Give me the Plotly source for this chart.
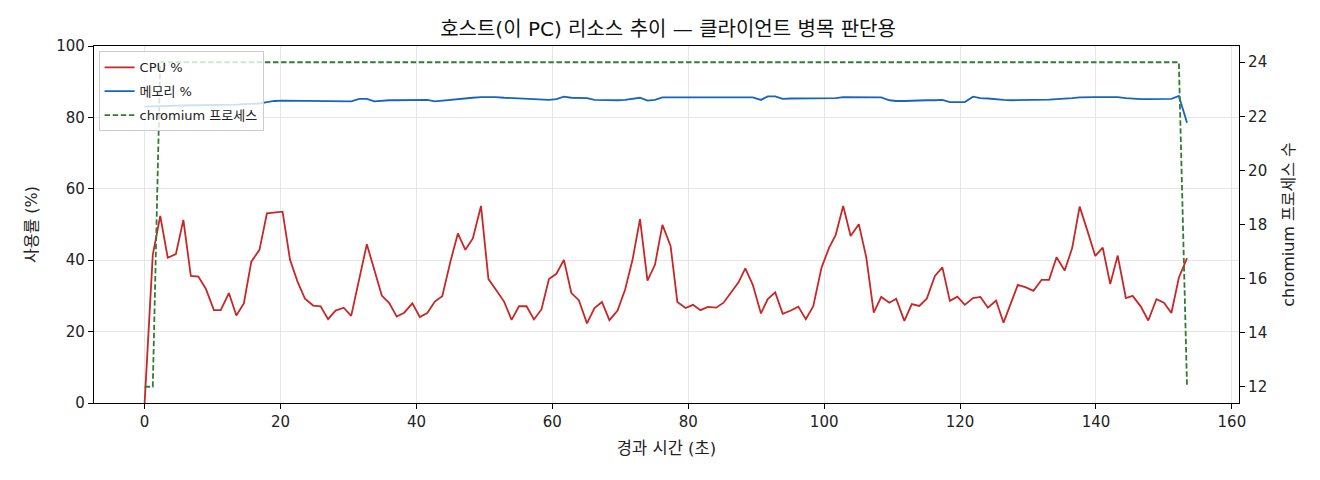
import plotly.graph_objects as go

# elapsed time (s)
t = [0.0, 1.2, 2.3, 3.4, 4.6, 5.7, 6.8, 7.9, 9.0, 10.2, 11.2, 12.4, 13.5, 14.6, 15.7, 16.9,
     18.0, 19.1, 20.3, 21.4, 22.5, 23.6, 24.8, 25.9, 27.0, 28.1, 29.3, 30.4, 31.6, 32.7, 33.8,
     34.9, 36.0, 37.1, 38.2, 39.4, 40.5, 41.6, 42.7, 43.8, 45.0, 46.1, 47.2, 48.3, 49.5, 50.6,
     51.7, 52.9, 54.0, 55.1, 56.2, 57.3, 58.4, 59.5, 60.6, 61.7, 62.8, 63.9, 65.1, 66.2, 67.3,
     68.4, 69.6, 70.7, 71.8, 72.9, 74.0, 75.1, 76.2, 77.4, 78.4, 79.6, 80.7, 81.8, 82.9, 84.1,
     85.2, 86.3, 87.4, 88.4, 89.5, 90.7, 91.7, 92.8, 93.9, 95.1, 96.2, 97.3, 98.4, 99.6, 100.7,
     101.7, 102.8, 103.9, 105.1, 106.2, 107.3, 108.4, 109.6, 110.6, 111.8, 112.9, 114.0, 115.1,
     116.3, 117.4, 118.5, 119.6, 120.7, 121.9, 123.0, 124.1, 125.3, 126.4, 127.5, 128.5, 129.7,
     130.8, 132.0, 133.1, 134.2, 135.4, 136.5, 137.6, 138.7, 139.9, 141.0, 142.1, 143.2, 144.4,
     145.4, 146.6, 147.7, 148.9, 150.0, 151.1, 152.2, 153.4]

cpu = [0.0, 41.5, 52.4, 40.7, 41.7, 51.3, 35.6, 35.4, 32.0, 26.0, 26.0, 30.8, 24.5, 27.9, 39.6, 42.9,
       53.1, 53.3, 53.6, 40.1, 34.0, 29.2, 27.3, 27.1, 23.5, 25.9, 26.7, 24.4, 35.4, 44.5, 37.3,
       30.1, 28.0, 24.2, 25.3, 27.9, 24.1, 25.2, 28.4, 29.9, 39.6, 47.5, 42.9, 46.1, 55.2, 34.7,
       31.7, 28.4, 23.3, 27.1, 27.1, 23.4, 26.2, 34.7, 36.2, 40.1, 30.8, 28.8, 22.3, 26.6, 28.3,
       23.2, 25.9, 31.7, 40.1, 51.5, 34.3, 38.7, 49.9, 44.0, 28.3, 26.6, 27.5, 26.0, 26.9, 26.7,
       28.1, 30.8, 33.8, 37.7, 33.1, 25.1, 29.1, 31.0, 25.0, 25.9, 27.0, 23.5, 27.1, 37.8, 43.4,
       47.1, 55.2, 46.8, 50.1, 40.8, 25.3, 29.7, 28.1, 29.2, 23.0, 27.7, 27.2, 29.2,
       35.6, 38.0, 28.6, 29.8, 27.5, 29.4, 29.7, 26.7, 28.7, 22.5, 27.8, 33.1, 32.4,
       31.4, 34.5, 34.5, 40.8, 37.1, 43.4, 55.0, 48.5, 41.2, 43.5, 33.3, 41.3, 29.4,
       30.0, 27.0, 23.1, 29.1, 28.1, 25.2, 35.1, 40.6]

mem = [83.0, 83.1, 83.2, 83.2, 83.3, 83.3, 83.4, 83.4, 83.4, 83.5, 83.5, 83.6, 83.6, 83.7, 83.8, 83.9,
       84.3, 84.6, 84.7, 84.7, 84.6, 84.7, 84.7, 84.6, 84.6, 84.6, 84.5, 84.5, 85.2, 85.2, 84.5,
       84.7, 84.8, 84.8, 84.8, 84.8, 85.0, 84.9, 84.5, 84.7, 85.0, 85.3, 85.4, 85.5, 85.7, 85.8,
       85.7, 85.5, 85.4, 85.4, 85.3, 85.3, 85.2, 84.9, 85.1, 85.8, 85.5, 85.4, 85.4, 84.9, 84.8,
       84.8, 84.8, 84.9, 85.1, 85.5, 84.7, 84.9, 85.6, 85.6, 85.6, 85.6, 85.6, 85.6, 85.5, 85.6,
       85.6, 85.5, 85.5, 85.6, 85.6, 84.9, 85.9, 85.9, 85.2, 85.3, 85.3, 85.3, 85.4, 85.4, 85.4,
       85.4, 85.7, 85.7, 85.7, 85.7, 85.7, 85.6, 84.8, 84.6, 84.6, 84.7, 84.7, 84.8,
       84.8, 84.9, 84.3, 84.3, 84.3, 85.8, 85.4, 85.3, 85.2, 84.9, 84.8, 84.8, 84.9,
       84.9, 84.9, 85.0, 85.1, 85.2, 85.4, 85.6, 85.7, 85.7, 85.7, 85.7, 85.7, 85.4,
       85.2, 85.1, 85.1, 85.1, 85.1, 85.2, 86.0, 78.5]

chromium = [12, 12] + [24] * 135 + [12]

TITLE = "호스트(이 PC) 리소스 추이 — 클라이언트 병목 판단용"
XLABEL = "경과 시간 (초)"
YLABEL = "사용률 (%)"
Y2LABEL = "chromium 프로세스 수"
NAMES = ["CPU %", "메모리 %", "chromium 프로세스"]

FONT = "DejaVu Sans, Noto Sans CJK KR, sans-serif"

fig = go.Figure()
fig.add_trace(go.Scatter(x=t, y=cpu, mode="lines", name=NAMES[0], legendgroup="g1",
                         line=dict(color="#c62828", width=1.8)))
fig.add_trace(go.Scatter(x=t, y=mem, mode="lines", name=NAMES[1], legendgroup="g2",
                         line=dict(color="#1565c0", width=1.8)))
fig.add_trace(go.Scatter(x=t, y=chromium, mode="lines", name=NAMES[2], yaxis="y2",
                         legendgroup="g3",
                         line=dict(color="#2e7d32", width=1.8, dash="5.5px,2.6px")))

axis_common = dict(showline=True, linecolor="#000", linewidth=1.2, ticks="outside",
                   ticklen=5, tickwidth=1.1, tickcolor="#000", zeroline=False,
                   tickfont=dict(size=15, color="#222"))

fig.update_layout(
    width=1320, height=480, autosize=False,
    margin=dict(l=86, r=89, t=38, b=85),
    paper_bgcolor="white", plot_bgcolor="white",
    font=dict(family=FONT, color="#222"),
    title=dict(text=TITLE, x=0.5, xanchor="center", y=1 - 21 / 480, yanchor="middle",
               yref="container", font=dict(size=20, color="#111")),
    xaxis=dict(range=[-7.45, 161.05], tickvals=[0, 20, 40, 60, 80, 100, 120, 140, 160],
               showgrid=True, gridcolor="#e6e6e6", gridwidth=1, mirror=True,
               title=dict(text=XLABEL, font=dict(size=16.5), standoff=12), **axis_common),
    yaxis=dict(range=[0, 100], tickvals=[0, 20, 40, 60, 80, 100],
               showgrid=True, gridcolor="#e6e6e6", gridwidth=1,
               title=dict(text=YLABEL, font=dict(size=16), standoff=14), **axis_common),
    yaxis2=dict(range=[11.4, 24.6], tickvals=[12, 14, 16, 18, 20, 22, 24],
                overlaying="y", side="right", showgrid=False,
                title=dict(text=Y2LABEL, font=dict(size=16), standoff=16), **axis_common),
    legend=dict(x=0.004, y=0.985, xanchor="left", yanchor="top",
                bgcolor="rgba(255,255,255,0.8)", bordercolor="#cccccc", borderwidth=1,
                font=dict(size=13, color="#222"), tracegroupgap=4, itemwidth=30),
    showlegend=True,
)

fig.write_html("out.html")
